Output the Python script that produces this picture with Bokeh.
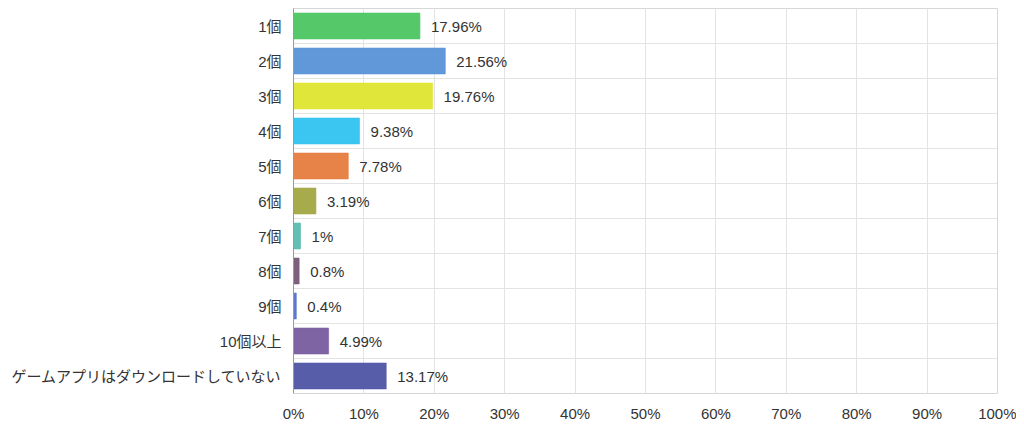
from bokeh.plotting import figure
from bokeh.models import ColumnDataSource, FixedTicker, PrintfTickFormatter, Range1d
from bokeh.embed import file_html
from bokeh.resources import INLINE
from bokeh.core.properties import value

categories = ["1個", "2個", "3個", "4個", "5個", "6個", "7個", "8個", "9個", "10個以上", "ゲームアプリはダウンロードしていない"]
values = [17.96, 21.56, 19.76, 9.38, 7.78, 3.19, 1.0, 0.8, 0.4, 4.99, 13.17]
labels = ["17.96%", "21.56%", "19.76%", "9.38%", "7.78%", "3.19%", "1%", "0.8%", "0.4%", "4.99%", "13.17%"]
colors = ["#4fc764", "#5b95d9", "#e0e534", "#34c4ef", "#e67e42", "#a5a846",
          "#5cbdb1", "#7a5a78", "#5a76c8", "#7b5fa0", "#5258a6"]
x_ticks = [0, 10, 20, 30, 40, 50, 60, 70, 80, 90, 100]

n = len(categories)
ypos = [n - 0.5 - i for i in range(n)]

FONT = "Liberation Sans, Noto Sans CJK JP, sans-serif"

src = ColumnDataSource(dict(y=ypos, v=values, lab=labels, c=colors, cat=categories))

p = figure(output_backend="svg", toolbar_location=None,
           frame_width=704, frame_height=385,
           min_border_left=293, min_border_right=19, min_border_top=8, min_border_bottom=30,
           x_range=Range1d(0, 100), y_range=Range1d(0, n),
           background_fill_color="white", border_fill_color="white")

p.hbar(y="y", right="v", left=0, height=0.74, source=src,
       fill_color="c", fill_alpha=0.97, line_color="c", line_alpha=0.6, line_width=1)

p.text(x="v", y="y", text="lab", source=src, x_offset=11,
       text_baseline="middle", text_align="left",
       text_font=value(FONT), text_font_size="15px", text_color="#333333")

p.outline_line_color = "#d6d6d6"
p.outline_line_width = 1

# grids
p.xgrid.ticker = FixedTicker(ticks=x_ticks)
p.xgrid.grid_line_color = "#e3e3e3"
p.ygrid.ticker = FixedTicker(ticks=list(range(n + 1)))
p.ygrid.grid_line_color = "#e3e3e3"

# x axis
p.xaxis.ticker = FixedTicker(ticks=x_ticks)
p.xaxis.formatter = PrintfTickFormatter(format="%d%%")
p.xaxis.axis_line_color = None
p.xaxis.major_tick_line_color = None
p.xaxis.minor_tick_line_color = None
p.xaxis.major_tick_out = 0
p.xaxis.major_label_standoff = 11
p.xaxis.major_label_text_font = FONT
p.xaxis.major_label_text_font_size = "15px"
p.xaxis.major_label_text_color = "#333333"

# y axis
p.yaxis.ticker = FixedTicker(ticks=ypos)
p.yaxis.major_label_overrides = {y: c for y, c in zip(ypos, categories)}
p.yaxis.axis_line_color = "#9a9a9a"
p.yaxis.major_tick_line_color = None
p.yaxis.minor_tick_line_color = None
p.yaxis.major_tick_out = 0
p.yaxis.major_label_standoff = 12
p.yaxis.major_label_text_font = FONT
p.yaxis.major_label_text_font_size = "15px"
p.yaxis.major_label_text_color = "#333333"

open("out.html", "w").write(file_html(p, INLINE))
